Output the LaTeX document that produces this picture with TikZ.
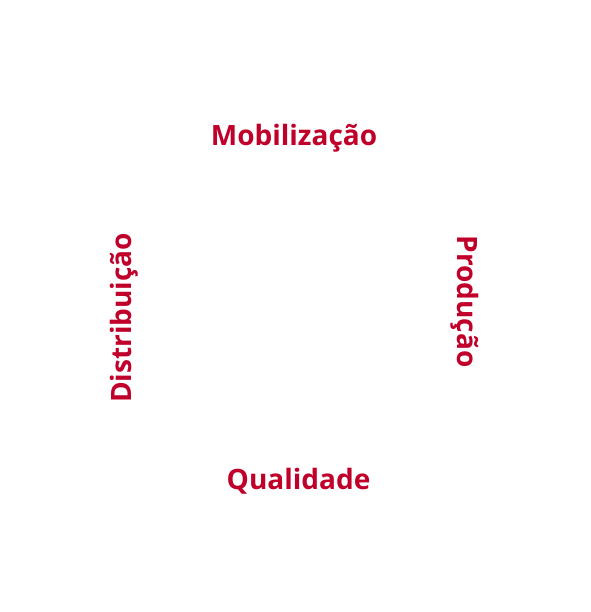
\documentclass[tikz,border=0pt]{standalone}
\usepackage{fontspec}
\setmainfont{Open Sans}
\definecolor{labelred}{HTML}{C0002A}
\begin{document}
\begin{tikzpicture}[x=1pt,y=1pt,
  lbl/.style={text=labelred, font=\bfseries\fontsize{28}{32}\selectfont, inner sep=0pt}]
\useasboundingbox[fill=white] (0,0) rectangle (590,612);
\node[lbl] (mob) at (294,612-138) {Mobilização};
\node[lbl] (qual) at (298.5,612-481) {Qualidade};
\node[lbl, rotate=90] (dist) at (124,612-318) {Distribuição};
\node[lbl, rotate=-90] (prod) at (465,612-301.5) {Produção};
\end{tikzpicture}
\end{document}
